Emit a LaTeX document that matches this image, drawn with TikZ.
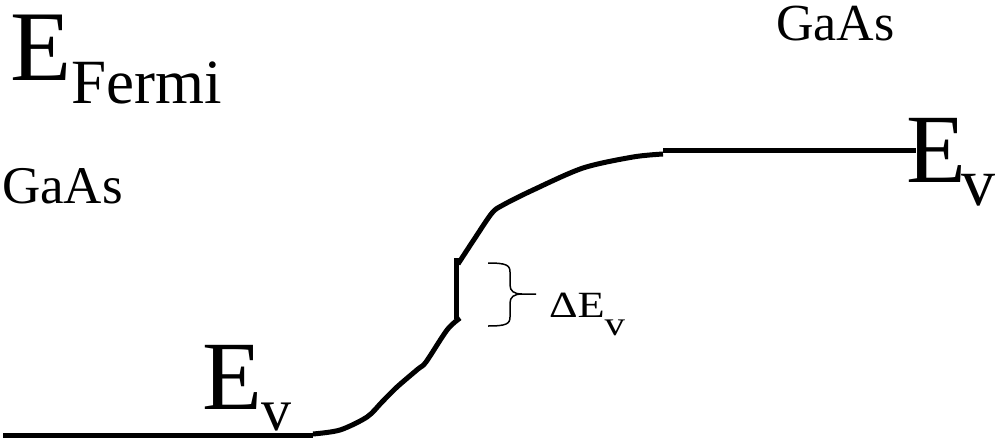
\documentclass[tikz,border=0pt]{standalone}
\usepackage{graphicx}
\usepackage{fontspec}
\setmainfont{Liberation Serif}
\newcommand{\fsz}[1]{\fontsize{#1}{#1}\selectfont}
\begin{document}
\begin{tikzpicture}[x=1pt,y=-1pt,
  band/.style={line width=5pt},
  lbl/.style={inner sep=0pt,outer sep=0pt,anchor=base west},
  bracestyle/.style={line width=1.5pt}]
\useasboundingbox (0,0) rectangle (1000,447);
% labels
\node[lbl] (ef) at (10,80) {\fsz{100}E\raisebox{-23pt}{\fsz{63}Fermi}};
\node[lbl] (gl) at (2,203) {\fsz{53}GaAs};
\node[lbl] (gr) at (776,40) {\fsz{52}GaAs};
\node[lbl] (evl) at (202,409) {\fsz{98}E\raisebox{-21pt}{\fsz{60}v}};
\node[lbl] (evr) at (906,182) {\fsz{98}E\kern-4pt\raisebox{-23pt}{\fsz{68}v}};
\node[lbl] (dev) at (549,317) {\scalebox{1.2}[1]{\fsz{37}ΔE\raisebox{-18pt}{\fsz{34}v}}};
% band edge
\draw[band] (3,435) -- (313,435);
\draw[band,line join=round] plot[smooth,tension=0.5] coordinates
  {(313,434) (340,430) (367,417) (382,402) (397,387) (418,369) (426,362) (447,330) (460,318)};
\draw[band] (456,319) -- (456,258);
\draw[band,line join=round] plot[smooth,tension=0.5] coordinates
  {(458,264) (475,238) (492,213) (503,205) (533,190) (583,168) (633,157) (663,154)};
\draw[band] (663,150) -- (916,150);
% brace
\draw[bracestyle] (488,263) .. controls (506,263) and (510,265) .. (510,272)
  -- (510,285) .. controls (510,291) and (514,294) .. (522,294) -- (536,294);
\draw[bracestyle] (488,326) .. controls (506,326) and (510,324) .. (510,317)
  -- (510,303) .. controls (510,297) and (514,294) .. (522,294);
\end{tikzpicture}
\end{document}
